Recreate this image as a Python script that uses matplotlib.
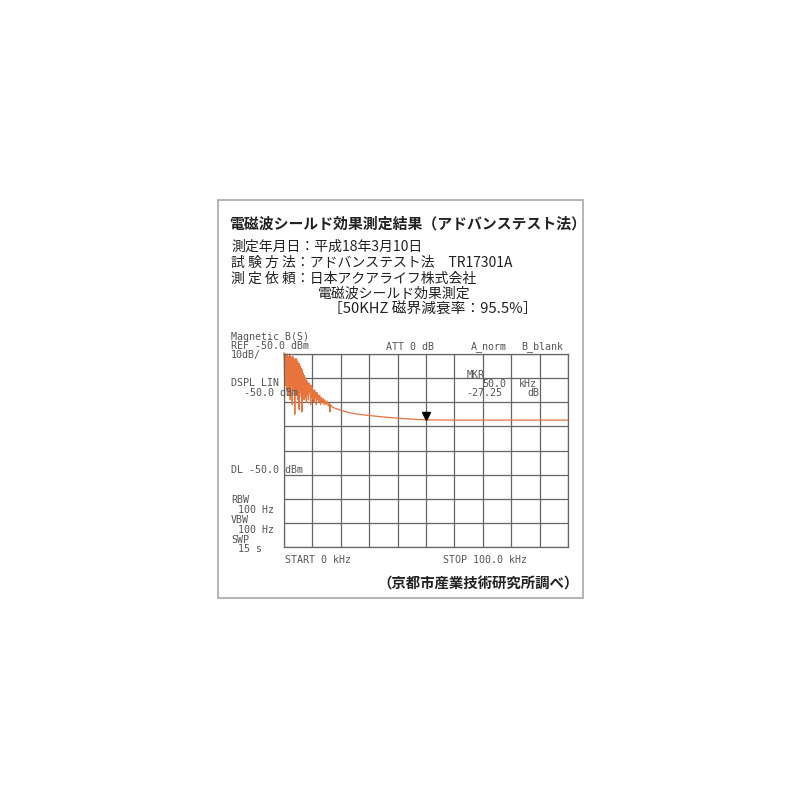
import matplotlib
matplotlib.use('Agg')
import matplotlib.pyplot as plt
from matplotlib.patches import Rectangle

plt.rcParams['font.family'] = ['Noto Sans CJK JP', 'DejaVu Sans']

# trace: kHz / dB (top of grid = 0)
freq = [0.0, 0.1, 0.2, 0.3, 0.4, 0.5, 0.6, 0.7, 0.8, 0.9,
        1.0, 1.1, 1.2, 1.3, 1.4, 1.5, 1.6, 1.7, 1.8, 1.9,
        2.0, 2.1, 2.2, 2.3, 2.4, 2.5, 2.6, 2.7, 2.8, 2.9,
        3.0, 3.1, 3.2, 3.3, 3.4, 3.5, 3.6, 3.7, 3.8, 3.9,
        4.0, 4.1, 4.2, 4.3, 4.4, 4.5, 4.6, 4.7, 4.8, 4.9,
        5.0, 5.1, 5.2, 5.3, 5.4, 5.5, 5.6, 5.7, 5.8, 5.9,
        6.0, 6.1, 6.2, 6.3, 6.4, 6.5, 6.6, 6.7, 6.8, 6.9,
        7.0, 7.1, 7.2, 7.3, 7.4, 7.5, 7.6, 7.7, 7.8, 7.9,
        8.0, 8.2, 8.4, 8.6, 8.8, 9.0, 9.2, 9.4, 9.6, 9.8,
        10.0, 10.2, 10.4, 10.6, 10.8, 11.0, 11.2, 11.4, 11.6, 11.8,
        12.0, 12.3, 12.6, 12.9, 13.2, 13.5, 13.8, 14.1, 14.4, 14.8,
        15.2, 15.6, 16.0, 16.2, 16.4, 17.0, 18.0, 20.0, 22.0, 25.0,
        30.0, 35.0, 40.0, 45.0, 50.0, 60.0, 70.0, 80.0, 90.0, 100.0]
level = [0.5, -3, -9, -1, -4, -13, 0, -2, -7, -1,
         -15, -2, 0, -6, -11, -1, -3, -17, -1, -5,
         0, -9, -19, -2, -1, -8, -13, -2, -4, -21,
         -3, -1, -10, -6, -2, -15, -3, -7, -25, -3,
         -2, -12, -3, -17, -2, -9, -4, -14, -3, -19,
         -4, -10, -5, -23, -4, -13, -6, -16, -5, -11,
         -7, -18, -6, -24, -7, -14, -8, -17, -8, -12,
         -9, -19, -9, -15, -10, -18, -10, -14, -11, -20,
         -11, -17, -12, -19, -12, -16, -13, -21, -13, -18,
         -14, -19, -15, -20, -15, -18, -16, -21, -16, -19,
         -17, -20, -17, -21, -18, -20, -18.5, -21, -19, -21,
         -19.5, -21.5, -20.5, -24, -21, -22, -22.5, -23.3, -24, -24.8,
         -25.5, -26.1, -26.6, -27, -27.3, -27.4, -27.4, -27.4, -27.4, -27.4]
marker_freq = 50.0
marker_level = -27.25

title = '電磁波シールド効果測定結果（アドバンステスト法）'
info_lines = ['測定年月日：平成18年3月10日',
              '試 験 方 法：アドバンステスト法　TR17301A',
              '測 定 依 頼：日本アクアライフ株式会社']
sub_lines = ['電磁波シールド効果測定', '［50KHZ 磁界減衰率：95.5%］']
source = '（京都市産業技術研究所調べ）'

W = H = 800
fig = plt.figure(figsize=(8, 8), dpi=100)

def fx(x):
    return x / W

def fy(y):
    return 1 - y / H

# outer frame
fig.patches.append(Rectangle((fx(218), fy(598)), fx(583) - fx(218), fy(200) - fy(598),
                             transform=fig.transFigure, fill=False,
                             edgecolor='#a8a8a8', linewidth=1.2))

# header text
fig.text(fx(229), fy(224), title, fontsize=10.7, fontweight='bold', va='center', color='#222')
for i, t in enumerate(info_lines):
    fig.text(fx(231), fy(247 + 16 * i), t, fontsize=10, va='center', color='#222')
fig.text(fx(318), fy(294), sub_lines[0], fontsize=10, va='center', color='#222')
fig.text(fx(328), fy(310), sub_lines[1], fontsize=10.6, va='center', color='#222')
fig.text(fx(579), fy(585), source, fontsize=10.4, fontweight='bold', va='center', ha='right', color='#222')

# analyzer grid
ax = fig.add_axes([fx(284), fy(547), fx(568) - fx(284), fy(354) - fy(547)])
ax.set_xlim(0, 100)
ax.set_ylim(-80, 0)
ax.set_xticks(range(0, 101, 10))
ax.set_yticks(range(-80, 1, 10))
ax.grid(True, color='#666', linewidth=0.9)
ax.tick_params(length=0, labelbottom=False, labelleft=False)
for s in ax.spines.values():
    s.set_color('#666')
    s.set_linewidth(0.9)
ax.plot(freq, level, color='#e8743c', linewidth=0.9, clip_on=False)
ax.plot([marker_freq], [marker_level + 1.4], marker='v', color='black', markersize=5.5)

mono = dict(family='DejaVu Sans Mono', fontsize=7.2, color='#555', va='center')
labels = [
    (231, 337, 'Magnetic B(S)'), (231, 346, 'REF -50.0 dBm'), (231, 355, '10dB/'),
    (386, 347, 'ATT 0 dB'), (471, 347, 'A_norm'), (521, 347, 'B_blank'),
    (231, 383, 'DSPL LIN'), (244, 393, '-50.0 dBm'),
    (467, 375, 'MKR'), (482, 384, '50.0'), (519, 384, 'kHz'),
    (466, 393, '-27.25'), (527, 393, 'dB'),
    (231, 470, 'DL -50.0 dBm'),
    (231, 500, 'RBW'), (238, 510, '100 Hz'), (231, 520, 'VBW'),
    (238, 530, '100 Hz'), (231, 540, 'SWP'), (238, 549, '15 s'),
    (285, 560, 'START 0 kHz'), (443, 560, 'STOP 100.0 kHz'),
]
for x, y, t in labels:
    fig.text(fx(x), fy(y), t, **mono)

fig.savefig('out.png', dpi=100, facecolor='white')
